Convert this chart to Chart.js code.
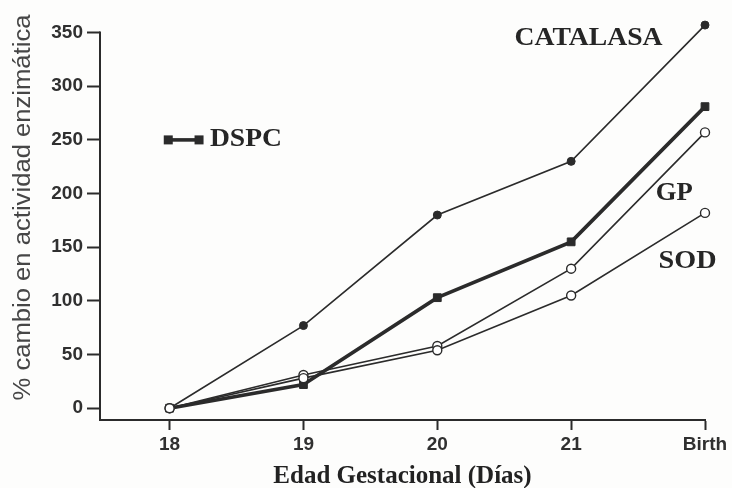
<!DOCTYPE html>
<html>
<head>
<meta charset="utf-8">
<script src="https://cdn.jsdelivr.net/npm/chart.js@4/dist/chart.umd.min.js"></script>
<style>
  html, body { margin: 0; padding: 0; background: #fdfdfc; }
  #wrap { width: 732px; height: 488px; }
</style>
</head>
<body>
<div id="wrap"><canvas id="c" width="732" height="488"></canvas></div>
<script>
// Gestational day (22 = birth) and the percent change of each enzyme activity
const days = [18, 19, 20, 21, 22];
const dayLabels = ['18', '19', '20', '21', 'Birth'];
const yTicks = [0, 50, 100, 150, 200, 250, 300, 350];
const catalasa = [0, 77, 180, 230, 357];
const dspc = [0, 22, 103, 155, 281];
const gp = [0, 31, 58, 130, 257];
const sod = [0, 28, 54, 105, 182];

const INK = '#2b2b2b';
const SERIF = '"Liberation Serif", "DejaVu Serif", serif';
const SANS = '"Liberation Sans", Arial, sans-serif';
const pts = arr => arr.map((v, i) => ({ x: days[i], y: v }));

// Draw text squeezed or stretched to a given width
function fitText(ctx, txt, px, py, w, font, color, rot) {
  ctx.save();
  ctx.font = font;
  ctx.fillStyle = color;
  ctx.textBaseline = 'middle';
  ctx.textAlign = 'center';
  const m = ctx.measureText(txt).width;
  ctx.translate(px, py);
  if (rot) ctx.rotate(rot);
  ctx.scale(w / m, 1);
  ctx.fillText(txt, 0, 0);
  ctx.restore();
}

// Value axis line: runs from the top tick down to the category axis
const valueAxisLine = {
  id: 'valueAxisLine',
  beforeDatasetsDraw(chart) {
    const { ctx, chartArea, scales: { y } } = chart;
    ctx.save();
    ctx.strokeStyle = INK;
    ctx.lineWidth = 2;
    ctx.beginPath();
    ctx.moveTo(chartArea.left, y.getPixelForValue(yTicks[yTicks.length - 1]) - 1);
    ctx.lineTo(chartArea.left, chartArea.bottom + 1);
    ctx.stroke();
    ctx.restore();
  }
};

// Series names written beside the curves, the DSPC key and the value-axis title
const annotations = {
  id: 'annotations',
  afterDatasetsDraw(chart) {
    const { ctx, scales: { x, y } } = chart;
    const name = (txt, dx, dy, w) =>
      fitText(ctx, txt, x.getPixelForValue(dx), y.getPixelForValue(dy), w,
              'bold 25px ' + SERIF, '#262626');
    name('CATALASA', 21.13, 344, 148);
    name('GP', 21.77, 200, 37);
    name('SOD', 21.87, 137, 58);

    // DSPC key: thick line between two squares
    const x0 = x.getPixelForValue(17.99), x1 = x.getPixelForValue(18.22);
    const yk = y.getPixelForValue(250);
    ctx.save();
    ctx.strokeStyle = INK; ctx.fillStyle = INK; ctx.lineWidth = 3.6;
    ctx.beginPath(); ctx.moveTo(x0, yk); ctx.lineTo(x1, yk); ctx.stroke();
    [x0, x1].forEach(p => ctx.fillRect(p - 4.5, yk - 4.5, 9, 9));
    ctx.restore();
    name('DSPC', 18.57, 250, 72);

    // value-axis title
    fitText(ctx, '% cambio en actividad enzimática', 24, y.getPixelForValue(187), 386,
            '23px ' + SANS, '#464646', -Math.PI / 2);
  }
};

const base = {
  borderColor: INK,
  pointBorderColor: INK,
  tension: 0,
  fill: false,
  clip: false
};

new Chart(document.getElementById('c'), {
  type: 'line',
  data: {
    datasets: [
      { ...base, label: 'SOD', data: pts(sod), borderWidth: 1.6, pointStyle: 'circle', pointRadius: 4.5, pointBackgroundColor: '#ffffff', pointBorderWidth: 1.4 },
      { ...base, label: 'GP', data: pts(gp), borderWidth: 1.6, pointStyle: 'circle', pointRadius: 4.5, pointBackgroundColor: '#ffffff', pointBorderWidth: 1.4 },
      { ...base, label: 'CATALASA', data: pts(catalasa), borderWidth: 1.6, pointStyle: 'circle', pointRadius: 4, pointBackgroundColor: INK, pointBorderWidth: 1 },
      { ...base, label: 'DSPC', data: pts(dspc), borderWidth: 3.6, pointStyle: 'rect', pointRadius: 5.5, pointBackgroundColor: INK, pointBorderWidth: 1 }
    ]
  },
  options: {
    responsive: false,
    animation: false,
    events: [],
    layout: { padding: { top: 24, right: 27, bottom: 0, left: 0 } },
    plugins: { legend: { display: false }, tooltip: { enabled: false } },
    scales: {
      x: {
        type: 'linear',
        min: 17.48,
        max: 22,
        afterBuildTicks: s => { s.ticks = days.map(v => ({ value: v })); },
        afterFit: s => { s.height = 68; },
        grid: { display: true, drawOnChartArea: false, drawTicks: true, tickLength: 10, color: INK, tickWidth: 2 },
        border: { display: true, color: INK, width: 2 },
        ticks: {
          padding: 3,
          color: '#303030',
          font: { family: SANS, size: 19, weight: 'bold' },
          maxRotation: 0,
          callback: v => dayLabels[days.indexOf(v)]
        },
        title: {
          display: true,
          text: 'Edad Gestacional (Días)',
          color: '#222',
          font: { family: SERIF, size: 25, weight: 'bold', lineHeight: 0.9 },
          padding: { top: 0, bottom: 0 }
        }
      },
      y: {
        min: -11,
        max: 358,
        afterBuildTicks: s => { s.ticks = yTicks.map(v => ({ value: v })); },
        afterFit: s => { s.width = 100; },
        grid: { display: true, drawOnChartArea: false, drawTicks: true, tickLength: 13, color: INK, tickWidth: 2 },
        border: { display: false },
        ticks: {
          padding: 4,
          color: '#303030',
          font: { family: SANS, size: 19, weight: 'bold' }
        }
      }
    }
  },
  plugins: [valueAxisLine, annotations]
});
</script>
</body>
</html>
